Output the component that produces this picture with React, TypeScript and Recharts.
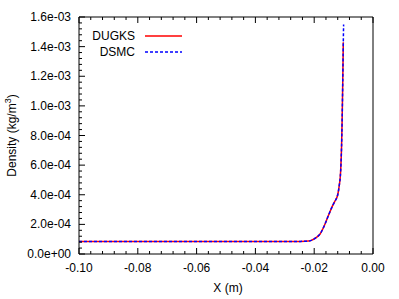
import React from 'react';
import { LineChart, Line, XAxis, YAxis, Legend } from 'recharts';

// position along the tube (m)
const xValues = [
  -0.1, -0.09, -0.08, -0.07, -0.06, -0.05, -0.04, -0.03, -0.025, -0.022, -0.021, -0.02, -0.019,
  -0.018, -0.017, -0.016, -0.015, -0.014, -0.013, -0.012, -0.0115, -0.011, -0.0107, -0.0105,
  -0.0103, -0.0101, -0.01,
];
// density (kg/m^3)
const dugks = [
  8.4e-5, 8.4e-5, 8.4e-5, 8.4e-5, 8.4e-5, 8.4e-5, 8.4e-5, 8.4e-5, 8.5e-5, 8.7e-5, 9.2e-5, 1.02e-4, 1.16e-4,
  1.35e-4, 1.72e-4, 2.18e-4, 2.68e-4, 3.15e-4, 3.55e-4, 4.0e-4, 4.6e-4, 5.6e-4, 7.2e-4, 9.0e-4,
  1.15e-3, 1.43e-3, null,
];
const dsmc = [
  8.4e-5, 8.4e-5, 8.4e-5, 8.4e-5, 8.4e-5, 8.4e-5, 8.4e-5, 8.4e-5, 8.5e-5, 8.7e-5, 9.2e-5, 1.02e-4, 1.16e-4,
  1.35e-4, 1.72e-4, 2.18e-4, 2.68e-4, 3.15e-4, 3.55e-4, 4.0e-4, 4.6e-4, 5.6e-4, 7.2e-4, 9.0e-4,
  1.15e-3, 1.43e-3, 1.55e-3,
];

const seriesOrder = ['DUGKS', 'DSMC'];
const xMajorTicks = [-0.1, -0.08, -0.06, -0.04, -0.02, 0];
const yMajorTicks = [0, 2e-4, 4e-4, 6e-4, 8e-4, 1e-3, 1.2e-3, 1.4e-3, 1.6e-3];

const xTicks: number[] = [];
for (let i = 0; i <= 25; i++) xTicks.push(-0.1 + i * 0.004);
const yTicks: number[] = [];
for (let i = 0; i <= 40; i++) yTicks.push(i * 4e-5);

const rows = xValues.map((x, i) => ({ x, dugks: dugks[i], dsmc: dsmc[i] }));

const FONT = '"Liberation Sans", Arial, Helvetica, sans-serif';

const isMajor = (v: number, majors: number[], eps: number) => majors.some((m) => Math.abs(m - v) < eps);

const fmtX = (v: number) => (Math.abs(v) < 1e-9 ? '0.00' : v.toFixed(2));
const fmtY = (v: number) => {
  const [m, e] = v.toExponential(1).split('e');
  const sign = e[0] === '-' ? '-' : '+';
  const digits = e.replace(/[+-]/, '').padStart(2, '0');
  return `${m}e${sign}${digits}`;
};

const XTick = (props: any) => {
  const { x, y, payload, side } = props;
  const major = isMajor(payload.value, xMajorTicks, 1e-6);
  const len = major ? 6 : 3;
  const dir = side === 'bottom' ? -1 : 1;
  return (
    <g>
      <line x1={x} x2={x} y1={y} y2={y + dir * len} stroke="#000" />
      {side === 'bottom' && major && (
        <text x={x} y={y + 18} textAnchor="middle" fontSize={12} fontFamily={FONT} fill="#000">
          {fmtX(payload.value)}
        </text>
      )}
    </g>
  );
};

const YTick = (props: any) => {
  const { x, y, payload, side } = props;
  const major = isMajor(payload.value, yMajorTicks, 1e-8);
  const len = major ? 6 : 3;
  const dir = side === 'left' ? 1 : -1;
  return (
    <g>
      <line x1={x} x2={x + dir * len} y1={y} y2={y} stroke="#000" />
      {side === 'left' && major && (
        <text x={x - 8} y={y + 4} textAnchor="end" fontSize={12} fontFamily={FONT} fill="#000">
          {fmtY(payload.value)}
        </text>
      )}
    </g>
  );
};

const renderLegend = (props: any) => {
  const items = [...(props.payload || [])].sort(
    (a: any, b: any) => seriesOrder.indexOf(a.value) - seriesOrder.indexOf(b.value)
  );
  return (
    <div style={{ fontFamily: FONT, fontSize: 12 }}>
      {items.map((entry: any) => (
        <div key={entry.value} style={{ display: 'flex', alignItems: 'center', height: 16, lineHeight: '16px' }}>
          <span style={{ width: 67, textAlign: 'right', color: '#000' }}>{entry.value}</span>
          <svg width={47} height={16} style={{ display: 'block' }}>
            <line
              x1={10}
              x2={47}
              y1={8}
              y2={8}
              stroke={entry.color}
              strokeWidth={1.5}
              strokeDasharray={entry.value === 'DSMC' ? '3 2' : undefined}
            />
          </svg>
        </div>
      ))}
    </div>
  );
};

const yLabel = (props: any) => {
  const vb = props.viewBox;
  const cx = vb.x + vb.width - 67;
  const cy = vb.y + vb.height / 2;
  return (
    <text
      x={cx}
      y={cy}
      transform={`rotate(-90 ${cx} ${cy})`}
      textAnchor="middle"
      dominantBaseline="central"
      fontSize={12}
      fontFamily={FONT}
      fill="#000"
    >
      Density (kg/m
      <tspan dy={-4} fontSize={9}>3</tspan>
      <tspan dy={4}>)</tspan>
    </text>
  );
};

const xLabel = (props: any) => {
  const vb = props.viewBox;
  return (
    <text x={vb.x + vb.width / 2 + 2} y={vb.y + 38} textAnchor="middle" fontSize={12} fontFamily={FONT} fill="#000">
      X (m)
    </text>
  );
};

export default function App() {
  return (
    <div style={{ position: 'absolute', left: 0, top: 0 }}>
      <LineChart width={399} height={299} data={rows} margin={{ top: 0, right: 0, bottom: 0, left: 0 }}>
        <XAxis
          dataKey="x"
          type="number"
          domain={[-0.1, 0]}
          ticks={xTicks}
          interval={0}
          height={45}
          tickSize={0}
          tickMargin={0}
          axisLine={{ stroke: '#000' }}
          tickLine={false}
          tick={(p: any) => <XTick {...p} side="bottom" />}
          label={xLabel}
          allowDataOverflow
        />
        <XAxis
          xAxisId="top"
          orientation="top"
          dataKey="x"
          type="number"
          domain={[-0.1, 0]}
          ticks={xTicks}
          interval={0}
          height={17}
          tickSize={0}
          tickMargin={0}
          axisLine={{ stroke: '#000' }}
          tickLine={false}
          tick={(p: any) => <XTick {...p} side="top" />}
        />
        <YAxis
          type="number"
          domain={[0, 1.6e-3]}
          ticks={yTicks}
          interval={0}
          width={79}
          tickSize={0}
          tickMargin={0}
          axisLine={{ stroke: '#000' }}
          tickLine={false}
          tick={(p: any) => <YTick {...p} side="left" />}
          label={yLabel}
          allowDataOverflow
        />
        <YAxis
          yAxisId="right"
          orientation="right"
          type="number"
          domain={[0, 1.6e-3]}
          ticks={yTicks}
          interval={0}
          width={26}
          tickSize={0}
          tickMargin={0}
          axisLine={{ stroke: '#000' }}
          tickLine={false}
          tick={(p: any) => <YTick {...p} side="right" />}
        />
        <Legend
          verticalAlign="middle"
          align="center"
          content={renderLegend}
          wrapperStyle={{ top: 28, left: 68, width: 120 }}
        />
        <Line
          name="DUGKS"
          dataKey="dugks"
          type="monotone"
          stroke="#ff0000"
          strokeWidth={1.5}
          dot={false}
          isAnimationActive={false}
        />
        <Line
          name="DSMC"
          dataKey="dsmc"
          type="monotone"
          stroke="#0000ff"
          strokeWidth={1.5}
          strokeDasharray="3 2"
          dot={false}
          isAnimationActive={false}
        />
      </LineChart>
    </div>
  );
}
